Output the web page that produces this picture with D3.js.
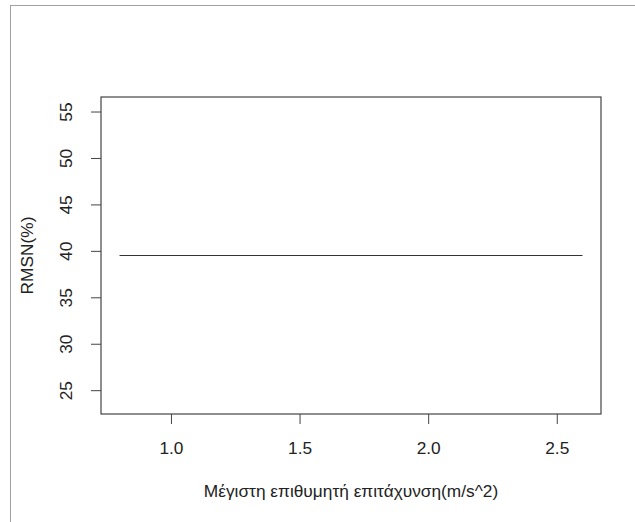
<!DOCTYPE html>
<html>
<head>
<meta charset="utf-8">
<script src="https://cdn.jsdelivr.net/npm/d3@7"></script>
<style>
  body { margin: 0; background: #fff; }
  text { font-family: "Liberation Sans", Arial, sans-serif; fill: #222; }
</style>
</head>
<body>
<svg id="chart" width="635" height="522"></svg>
<script>
// data
const accel = [0.8, 2.6];
const rmsn = [39.5, 39.5];
const xTicks = [1.0, 1.5, 2.0, 2.5];
const yTicks = [25, 30, 35, 40, 45, 50, 55];

const width = 635;
const height = 522;
const box = { left: 101, right: 601, top: 97, bottom: 414 };
const fs = 17.3;

const svg = d3.select("#chart");

// outer frame (only top and left edges show)
svg.append("line")
  .attr("x1", 10).attr("x2", width).attr("y1", 5.5).attr("y2", 5.5)
  .attr("stroke", "#a0a0a0").attr("stroke-width", 1);
svg.append("line")
  .attr("x1", 10.5).attr("x2", 10.5).attr("y1", 5).attr("y2", height)
  .attr("stroke", "#a0a0a0").attr("stroke-width", 1);

// R-style limits with 4% padding
const xr = accel[1] - accel[0];
const x = d3.scaleLinear()
  .domain([accel[0] - 0.04 * xr, accel[1] + 0.04 * xr])
  .range([box.left, box.right]);

const ylo = rmsn[0] * 0.6, yhi = rmsn[0] * 1.4;
const yr = yhi - ylo;
const y = d3.scaleLinear()
  .domain([ylo - 0.04 * yr, yhi + 0.04 * yr])
  .range([box.bottom, box.top]);

// axes
const xAxis = svg.append("g")
  .attr("transform", `translate(0,${box.bottom})`)
  .call(d3.axisBottom(x).tickValues(xTicks).tickFormat(d3.format(".1f")).tickSize(10).tickSizeOuter(0).tickPadding(18));
xAxis.select(".domain").remove();
xAxis.selectAll("line").attr("stroke", "#444");
xAxis.selectAll("text").attr("font-size", fs).attr("font-family", "Liberation Sans, Arial, sans-serif").attr("fill", "#222");

const yAxis = svg.append("g")
  .attr("transform", `translate(${box.left},0)`)
  .call(d3.axisLeft(y).tickValues(yTicks).tickSize(10).tickSizeOuter(0));
yAxis.select(".domain").remove();
yAxis.selectAll("line").attr("stroke", "#444");
yAxis.selectAll("text")
  .attr("font-size", fs)
  .attr("font-family", "Liberation Sans, Arial, sans-serif")
  .attr("fill", "#222")
  .attr("text-anchor", "middle")
  .attr("dy", null)
  .attr("x", null)
  .attr("transform", "translate(-29,0) rotate(-90)");

// plot box
svg.append("rect")
  .attr("x", box.left).attr("y", box.top)
  .attr("width", box.right - box.left).attr("height", box.bottom - box.top)
  .attr("fill", "none").attr("stroke", "#444").attr("stroke-width", 1.2);

// the series
svg.append("path")
  .datum(accel.map((a, i) => [a, rmsn[i]]))
  .attr("fill", "none")
  .attr("stroke", "#333")
  .attr("stroke-width", 1.2)
  .attr("d", d3.line().x(d => x(d[0])).y(d => y(d[1])));

// axis titles
svg.append("text")
  .attr("x", (box.left + box.right) / 2).attr("y", 497)
  .attr("text-anchor", "middle").attr("font-size", fs)
  .text("Μέγιστη επιθυμητή επιτάχυνση(m/s^2)");

svg.append("text")
  .attr("transform", `translate(33,${(box.top + box.bottom) / 2}) rotate(-90)`)
  .attr("text-anchor", "middle").attr("font-size", fs)
  .text("RMSN(%)");
</script>
</body>
</html>
